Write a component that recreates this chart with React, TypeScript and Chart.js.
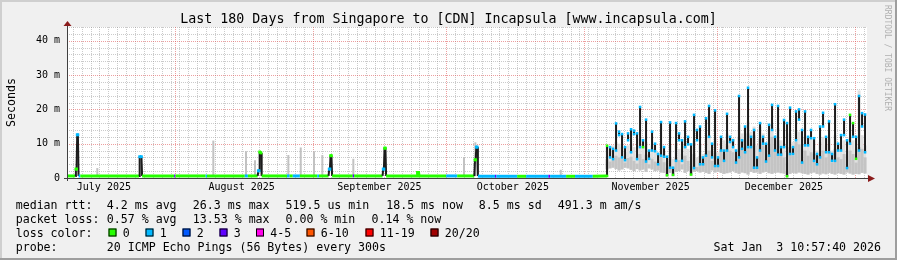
import React, { useEffect, useRef } from 'react';
import { Chart, registerables } from 'chart.js';
Chart.register(...registerables);

// ---------- texts ----------
const TITLE = 'Last 180 Days from Singapore to [CDN] Incapsula [www.incapsula.com]';
const Y_TITLE = 'Seconds';
const WATERMARK = 'RRDTOOL / TOBI OETIKER';
const LEGEND_ROW1 = ['median rtt:', '4.2 ms avg', '26.3 ms max', '519.5 us min', '18.5 ms now', '8.5 ms sd', '491.3 m am/s'];
const LEGEND_ROW2 = ['packet loss:', '0.57 % avg', '13.53 % max', '0.00 % min', '0.14 % now'];
const LEGEND_ROW3_HEAD = 'loss color:';
const LOSS_LABELS = ['0', '1', '2', '3', '4-5', '6-10', '11-19', '20/20'];
const LOSS_COLORS = ['#26ff00', '#00b8ff', '#0059ff', '#5e00ff', '#ff00ea', '#ff5500', '#ff0000', '#a10000'];
const LEGEND_ROW4 = ['probe:', '20 ICMP Echo Pings (56 Bytes) every 300s'];
const TIMESTAMP = 'Sat Jan  3 10:57:40 2026';

// ---------- axes (time in days since 2025-07-01 00:00, rtt in ms) ----------
const RANGE_START = 6.7;
const RANGE_END = 186.7;
const MONTH_STARTS = [31, 62, 92, 123, 153, 184];
const MONTH_LABEL_DAYS = [15, 46, 77, 107, 138, 168];
const MONTH_LABELS = ['July 2025', 'August 2025', 'September 2025', 'October 2025', 'November 2025', 'December 2025'];
const Y_MAX = 44;
const Y_TICKS = [0, 10, 20, 30, 40];
const Y_TICK_LABELS = ['0', '10 m', '20 m', '30 m', '40 m'];

// ---------- quiet period: median rtt with loss class ----------
const baseDays = [
  6.7,
  8.55, 8.7, 8.85, 9.0, 9.15, 9.3, 9.7,
  22.9, 23.05, 23.45, 23.6,
  30.8, 31.1,
  37.9, 38.2, 46.7, 47.4,
  49.6, 49.75, 49.9, 50.05, 50.35, 50.5,
  56.2, 56.8, 57.5, 59.1, 63.0, 63.4,
  65.55, 65.7, 65.85, 66.0, 66.2, 66.35,
  71.0, 71.3,
  77.7, 77.85, 78.0, 78.15, 78.35, 78.5,
  85.5, 85.6, 85.8, 85.9,
  92.0, 94.5,
  98.35, 98.5, 98.65, 98.8, 99.0, 99.15,
  99.6, 103.0, 103.3, 108.0, 110.0, 115.0, 115.4, 119.0, 121.0, 125.0, 128.0];
const baseRtt = [
  0.6,
  0.6, 2.6, 2.6, 12.6, 12.6, 0.6, 0.6,
  0.6, 6.2, 6.2, 0.6,
  0.6, 0.6,
  0.6, 0.6, 0.6, 0.6,
  0.6, 2.1, 2.1, 7.6, 7.3, 0.6,
  0.6, 0.6, 0.6, 0.6, 0.6, 0.6,
  0.6, 2.6, 2.6, 6.5, 6.5, 0.6,
  0.6, 0.6,
  0.6, 2.6, 2.6, 8.7, 8.7, 0.6,
  0.6, 1.6, 1.6, 0.6,
  0.6, 0.6,
  0.6, 5.3, 5.3, 9.0, 9.0, 0.6,
  0.5, 0.5, 0.5, 0.5, 0.5, 0.5, 0.5, 0.5, 0.5, 0.5, 0.6];
const baseLoss = [
  0,
  0, 0, 0, 1, 1, 1, 0,
  0, 1, 1, 0,
  3, 0,
  1, 0, 1, 0,
  1, 1, 1, 0, 0, 0,
  1, 0, 1, 0, 1, 0,
  0, 1, 1, 0, 0, 0,
  3, 0,
  0, 1, 1, 0, 0, 0,
  0, 0, 0, 0,
  1, 0,
  0, 0, 0, 1, 1, 1,
  1, 3, 1, 0, 1, 3, 1, 0, 1, 0, 0];

// isolated smoke (max ping) spikes in quiet period
const spikeDays = [13.52, 39.62, 46.98, 49.0, 56.5, 59.29, 62.28, 64.15, 71.12, 96.03, 98.58, 117.79];
const spikeLo = [0.5, 0.5, 0.5, 0.5, 0.5, 0.5, 0.5, 0.5, 0.5, 0.5, 0.5, 0.5];
const spikeHi = [2.9, 10.9, 7.8, 5.2, 6.7, 8.9, 7.8, 6.7, 5.6, 6.1, 10.4, 2.4];

// ---------- busy period (from Nov 6): per-bin swing of the median line ----------
const ACTIVE_START = 128.21;
const ACTIVE_STEP = 0.675;
const medianLow = [
  0.6, 6.0, 5.5, 8.0, 12.5, 6.0, 5.2, 11.0, 7.5, 12.8,
  5.5, 9.0, 9.0, 4.8, 5.6, 8.0, 7.8, 4.0, 6.5, 6.2,
  0.8, 3.0, 0.9, 5.0, 11.0, 5.0, 9.0, 9.8, 1.0, 2.9,
  11.0, 4.0, 4.0, 6.5, 12.0, 6.0, 3.5, 3.5,
  8.0, 5.0, 8.0, 10.5, 9.0, 4.5, 6.0, 8.5, 7.5, 9.0,
  9.0, 3.0, 3.0, 8.0, 10.0, 4.8, 6.5, 14.0, 8.0, 6.8,
  6.8, 9.0, 0.5, 7.0, 7.0, 11.0, 17.0, 4.5,
  9.5, 9.5, 11.6, 5.0, 4.0, 6.0, 15.0, 7.5, 7.5, 5.0,
  5.0, 8.0, 8.0, 12.5, 2.9, 10.0, 12.0, 5.6, 8.0, 15.0, 7.5];
const medianHigh = [
  9.4, 9.0, 8.5, 15.9, 13.5, 12.8, 9.0, 13.0, 14.2, 13.8,
  13.0, 20.7, 11.0, 17.0, 8.0, 13.5, 10.0, 7.0, 16.3, 9.0,
  6.2, 16.2, 3.0, 16.0, 13.0, 11.0, 16.5, 12.0, 9.8, 18.4,
  14.0, 15.0, 6.0, 17.4, 21.0, 10.0, 19.7, 6.0,
  12.0, 8.0, 18.7, 12.0, 11.0, 8.0, 23.9, 11.0, 15.0, 26.3,
  12.0, 14.0, 6.0, 16.0, 12.0, 10.0, 15.5, 21.3, 12.0, 21.0,
  9.0, 16.9, 16.0, 20.5, 9.0, 19.4, 20.0, 14.0,
  19.4, 12.0, 14.0, 11.6, 7.0, 15.0, 19.0, 12.0, 16.5, 7.0,
  21.5, 10.0, 12.5, 17.0, 11.0, 18.4, 16.0, 12.0, 23.9, 18.9, 18.5];
const lossAtLow = [
  0, 1, 1, 1, 1, 1, 1, 1, 1, 1,
  1, 1, 0, 1, 1, 1, 1, 1, 1, 1,
  0, 1, 0, 1, 1, 1, 1, 1, 0, 1,
  1, 1, 1, 1, 1, 1, 1, 1,
  1, 1, 1, 1, 1, 1, 1, 1, 1, 1,
  1, 1, 1, 1, 1, 1, 1, 1, 1, 1,
  1, 1, 0, 1, 1, 1, 1, 1,
  1, 1, 1, 1, 1, 1, 1, 1, 1, 1,
  1, 1, 1, 1, 1, 1, 1, 0, 1, 1, 1];
const lossAtHigh = [
  0, 1, 1, 1, 1, 1, 1, 1, 1, 1,
  1, 1, 1, 1, 1, 1, 1, 1, 1, 1,
  1, 1, 1, 1, 1, 1, 1, 1, 1, 1,
  1, 1, 1, 1, 1, 1, 1, 1,
  1, 1, 1, 1, 1, 1, 1, 1, 1, 1,
  1, 1, 1, 1, 1, 1, 1, 1, 1, 1,
  1, 1, 1, 1, 1, 1, 1, 1,
  1, 1, 1, 1, 1, 1, 1, 1, 1, 1,
  1, 1, 1, 1, 1, 0, 0, 1, 1, 1, 1];
const smokeLo = [
  2.5, 2.8, 3.0, 2.6, 2.2, 2.5, 3.0, 2.8, 2.4, 2.0, 2.6, 2.2, 2.5, 1.8, 2.8, 2.5, 2.0, 2.2, 1.6, 1.5,
  0.5, 1.5, 0.6, 1.8, 2.0, 2.5, 1.5, 2.0, 0.7, 1.8, 2.0, 1.6, 1.8, 1.5, 1.2, 2.2, 1.6, 1.8,
  1.5, 1.2, 1.4, 1.6, 2.0, 1.5, 1.2, 1.6, 1.4, 1.0, 1.8, 1.5, 1.6, 1.2, 1.6, 1.8, 1.4, 1.2, 1.5, 1.6,
  1.4, 1.3, 0.4, 1.2, 1.5, 1.3, 1.6, 1.4,
  1.2, 1.0, 1.4, 1.6, 1.2, 1.0, 1.3, 1.1, 1.5, 1.2, 1.0, 1.4, 1.2, 1.0, 1.6, 1.3, 1.0, 1.2, 1.1, 1.5, 1.3];
const smokeMid = [
  5.5, 4.8, 5.2, 6.5, 6.0, 5.5, 4.5, 5.8, 6.2, 5.0, 4.2, 7.0, 5.5, 6.8, 4.0, 5.6, 4.8, 4.5, 6.2, 4.6,
  3.0, 5.8, 3.2, 6.0, 5.2, 4.0, 6.5, 5.0, 3.5, 7.0, 3.2, 6.4, 4.5, 7.2, 8.0, 5.0, 7.5, 4.5,
  8.5, 7.0, 9.5, 8.0, 7.5, 5.5, 12.0, 9.0, 11.0, 13.0, 10.0, 12.5, 6.0, 11.5, 9.5, 5.5, 10.0, 12.0, 8.5, 11.0,
  7.5, 6.0, 2.0, 9.0, 6.5, 10.5, 9.8, 5.0,
  8.0, 6.5, 7.5, 7.0, 4.5, 6.5, 8.0, 6.0, 7.5, 4.5, 8.5, 6.0, 5.5, 7.0, 3.5, 8.0, 7.0, 4.5, 9.0, 8.5, 6.0];
const smokeHi = [
  9.0, 8.0, 9.5, 10.5, 10.0, 9.0, 7.5, 9.5, 10.0, 9.0, 7.0, 11.5, 9.0, 10.5, 7.0, 9.5, 8.0, 7.5, 10.0, 7.8,
  5.0, 9.5, 5.5, 10.0, 8.5, 7.0, 10.5, 8.5, 6.0, 11.0, 6.0, 10.0, 7.0, 11.5, 12.5, 8.0, 12.0, 7.5,
  12.0, 11.0, 13.0, 12.0, 11.5, 8.5, 15.5, 13.0, 14.5, 16.5, 13.5, 15.0, 9.5, 15.0, 13.0, 9.0, 14.0, 15.5, 12.0, 14.5,
  11.0, 10.0, 4.5, 13.0, 10.5, 14.0, 13.5, 8.5,
  12.0, 10.5, 11.5, 11.0, 8.0, 10.5, 12.0, 9.5, 11.5, 8.0, 12.5, 10.0, 9.5, 11.0, 6.5, 12.0, 11.0, 8.5, 25.5, 12.5, 9.5];

// ---------- layout (pixels) ----------
const W = 897;
const H = 260;
const MONO = "'DejaVu Sans Mono', monospace";
const ROW1_X = [15.7, 106.8, 192.8, 285.5, 386.2, 478.8, 557.8];
const ROW2_X = [15.7, 106.8, 192.8, 285.5, 371.5];
const SWATCH_X = [108.5, 145.5, 182.5, 219.5, 256, 306.5, 365.5, 430.5];
const ROW_BASE = [208.7, 222.9, 237.1, 251.2];

const activeDays = medianLow.map((_, i) => ACTIVE_START + i * ACTIVE_STEP);
const basePts = baseDays.map((d, i) => ({ x: d, y: baseRtt[i] }));
const endPts = [
  ...activeDays.map((d, i) => ({ x: d, y: medianHigh[i] })),
  ...activeDays.map((d, i) => ({ x: d, y: medianLow[i] })),
];
const endLoss = [...lossAtHigh, ...lossAtLow];

const rrdPlugin = {
  id: 'rrd',
  beforeDraw(chart: any) {
    const { ctx, chartArea: a } = chart;
    ctx.save();
    ctx.fillStyle = '#f0f0f0';
    ctx.fillRect(0, 0, W, H);
    ctx.fillStyle = '#cfcfcf';
    ctx.fillRect(0, 0, W, 2);
    ctx.fillRect(0, 0, 2, H);
    ctx.fillStyle = '#9e9e9e';
    ctx.fillRect(0, H - 2, W, 2);
    ctx.fillRect(W - 2, 0, 2, H);
    ctx.fillStyle = '#ffffff';
    ctx.fillRect(a.left, a.top, a.right - a.left, a.bottom - a.top);
    ctx.restore();
  },
  beforeDatasetsDraw(chart: any) {
    const { ctx, chartArea: a, scales } = chart;
    const xs = scales.x, ys = scales.y;
    ctx.save();
    ctx.beginPath();
    ctx.rect(a.left, a.top, a.right - a.left, a.bottom - a.top);
    ctx.clip();
    ctx.lineWidth = 1;
    ctx.setLineDash([1, 1]);
    const vline = (d: number) => {
      const x = Math.round(xs.getPixelForValue(d)) + 0.5;
      ctx.beginPath(); ctx.moveTo(x, a.top); ctx.lineTo(x, a.bottom); ctx.stroke();
    };
    const hline = (v: number) => {
      const y = Math.round(ys.getPixelForValue(v)) + 0.5;
      ctx.beginPath(); ctx.moveTo(a.left, y); ctx.lineTo(a.right, y); ctx.stroke();
    };
    ctx.strokeStyle = 'rgba(140,140,140,0.45)';
    for (let d = 8; d <= RANGE_END; d += 2) if (!MONTH_STARTS.includes(d)) vline(d);
    for (let v = 2; v <= Y_MAX; v += 2) if (v % 10 !== 0) hline(v);
    ctx.strokeStyle = 'rgba(222,80,80,0.55)';
    MONTH_STARTS.forEach(vline);
    [10, 20, 30, 40].forEach(hline);
    ctx.restore();
  },
  afterDatasetsDraw(chart: any) {
    const { ctx, chartArea: a } = chart;
    ctx.save();
    ctx.strokeStyle = '#404040';
    ctx.lineWidth = 1;
    ctx.beginPath();
    ctx.moveTo(a.left - 3, a.bottom + 0.5); ctx.lineTo(a.right + 3, a.bottom + 0.5);
    ctx.moveTo(a.left + 0.5, a.top - 3); ctx.lineTo(a.left + 0.5, a.bottom + 3);
    ctx.stroke();
    ctx.fillStyle = '#8b1c1c';
    ctx.beginPath();
    ctx.moveTo(a.right + 1, a.bottom - 3); ctx.lineTo(a.right + 8, a.bottom + 0.5); ctx.lineTo(a.right + 1, a.bottom + 4);
    ctx.closePath(); ctx.fill();
    ctx.beginPath();
    ctx.moveTo(a.left - 3.5, a.top - 1); ctx.lineTo(a.left + 0.5, a.top - 6); ctx.lineTo(a.left + 4.5, a.top - 1);
    ctx.closePath(); ctx.fill();
    ctx.restore();
  },
  afterDraw(chart: any) {
    const { ctx, chartArea: a } = chart;
    ctx.save();
    ctx.fillStyle = '#000';
    ctx.textBaseline = 'alphabetic';
    ctx.font = `13.3px ${MONO}`;
    ctx.textAlign = 'center';
    ctx.fillText(TITLE, W / 2, 22.8);
    ctx.font = `11.6px ${MONO}`;
    ctx.save();
    ctx.translate(15, (a.top + a.bottom) / 2);
    ctx.rotate(-Math.PI / 2);
    ctx.fillText(Y_TITLE, 0, 0);
    ctx.restore();
    ctx.textAlign = 'left';
    LEGEND_ROW1.forEach((t, i) => ctx.fillText(t, ROW1_X[i], ROW_BASE[0]));
    LEGEND_ROW2.forEach((t, i) => ctx.fillText(t, ROW2_X[i], ROW_BASE[1]));
    ctx.fillText(LEGEND_ROW3_HEAD, 15.7, ROW_BASE[2]);
    LOSS_LABELS.forEach((t, i) => {
      const sx = SWATCH_X[i];
      ctx.fillStyle = LOSS_COLORS[i];
      ctx.fillRect(sx, ROW_BASE[2] - 8.6, 8, 8);
      ctx.strokeStyle = '#000';
      ctx.lineWidth = 1;
      ctx.strokeRect(sx + 0.5, ROW_BASE[2] - 8.1, 7, 7);
      ctx.fillStyle = '#000';
      ctx.fillText(t, sx + 14.3, ROW_BASE[2]);
    });
    ctx.fillText(LEGEND_ROW4[0], 15.7, ROW_BASE[3]);
    ctx.fillText(LEGEND_ROW4[1], 106.8, ROW_BASE[3]);
    ctx.textAlign = 'right';
    ctx.fillText(TIMESTAMP, 881, ROW_BASE[3]);
    ctx.font = `8px ${MONO}`;
    ctx.fillStyle = '#b0b0b0';
    ctx.textAlign = 'left';
    ctx.translate(885, 5);
    ctx.rotate(Math.PI / 2);
    ctx.fillText(WATERMARK, 0, 0);
    ctx.restore();
  },
};

export default function App() {
  const ref = useRef<HTMLCanvasElement>(null);
  useEffect(() => {
    const bigJump = (c: any) => Math.abs(c.p0.parsed.y - c.p1.parsed.y) > 1.2;
    const chart = new Chart(ref.current as HTMLCanvasElement, {
      type: 'line',
      data: {
        datasets: [
          // quiet-period median line
          {
            type: 'line',
            order: 0,
            data: basePts,
            tension: 0,
            borderColor: '#1c1c1c',
            borderWidth: 2,
            segment: {
              borderColor: (c: any) => (bigJump(c) ? '#1c1c1c' : LOSS_COLORS[baseLoss[c.p0DataIndex]]),
              borderWidth: (c: any) => (bigJump(c) ? 2 : 3),
            },
            pointStyle: 'rect',
            pointRadius: (c: any) => (c.raw && c.raw.y > 1.2 ? 2 : 0),
            pointBackgroundColor: (c: any) => LOSS_COLORS[baseLoss[c.dataIndex] ?? 0],
            pointBorderWidth: 0,
            pointHoverRadius: 0,
          } as any,
          // busy-period median swings (black strokes)
          {
            type: 'bar',
            order: 1,
            data: activeDays.map((d, i) => ({ x: d, y: [medianLow[i], medianHigh[i]] })),
            backgroundColor: '#1c1c1c',
            barThickness: 2,
            grouped: false,
            borderWidth: 0,
            inflateAmount: 0,
          } as any,
          // loss-coloured ends of the median strokes
          {
            type: 'line',
            order: 0,
            data: endPts,
            showLine: false,
            pointStyle: 'rect',
            pointRadius: 1.8,
            pointBackgroundColor: (c: any) => LOSS_COLORS[endLoss[c.dataIndex] ?? 1],
            pointBorderWidth: 0,
            pointHoverRadius: 0,
          } as any,
          {
            type: 'bar',
            order: 2,
            data: spikeDays.map((d, i) => ({ x: d, y: [spikeLo[i], spikeHi[i]] })),
            backgroundColor: '#c2c2c2',
            barThickness: 2,
            grouped: false,
            borderWidth: 0,
            inflateAmount: 0,
          } as any,
          {
            type: 'bar',
            order: 2,
            data: activeDays.map((d, i) => ({ x: d, y: [smokeLo[i], smokeMid[i]] })),
            backgroundColor: '#c4c4c4',
            barThickness: 3,
            grouped: false,
            borderWidth: 0,
            inflateAmount: 0,
          } as any,
          {
            type: 'bar',
            order: 3,
            data: activeDays.map((d, i) => ({ x: d, y: [smokeLo[i], smokeHi[i]] })),
            backgroundColor: '#e0e0e0',
            barThickness: 3,
            grouped: false,
            borderWidth: 0,
            inflateAmount: 0,
          } as any,
        ],
      },
      options: {
        responsive: false,
        animation: false,
        devicePixelRatio: 1,
        events: [],
        layout: { padding: { left: 0, top: 27, right: 30, bottom: 0 } },
        plugins: { legend: { display: false }, tooltip: { enabled: false }, title: { display: false } },
        scales: {
          x: {
            type: 'linear',
            min: RANGE_START,
            max: RANGE_END,
            offset: false,
            grid: { display: false, drawTicks: false },
            border: { display: false },
            afterBuildTicks: (s: any) => { s.ticks = MONTH_LABEL_DAYS.map((v) => ({ value: v })); },
            afterFit: (s: any) => { s.height = 82; },
            ticks: {
              autoSkip: false,
              maxRotation: 0,
              minRotation: 0,
              padding: 3,
              color: '#000',
              font: { family: MONO, size: 10 },
              callback: (_v: any, i: number) => MONTH_LABELS[i],
            },
          },
          y: {
            type: 'linear',
            min: 0,
            max: Y_MAX,
            grid: { display: false, drawTicks: false },
            border: { display: false },
            afterBuildTicks: (s: any) => { s.ticks = Y_TICKS.map((v) => ({ value: v })); },
            afterFit: (s: any) => { s.width = 67; },
            ticks: {
              padding: 7,
              color: '#000',
              font: { family: MONO, size: 10 },
              callback: (_v: any, i: number) => Y_TICK_LABELS[i],
            },
          },
        },
      } as any,
      plugins: [rrdPlugin],
    });
    return () => chart.destroy();
  }, []);
  return (
    <div style={{ position: 'fixed', left: 0, top: 0, width: W, height: H }}>
      <canvas ref={ref} width={W} height={H} style={{ display: 'block', width: W, height: H }} />
    </div>
  );
}
